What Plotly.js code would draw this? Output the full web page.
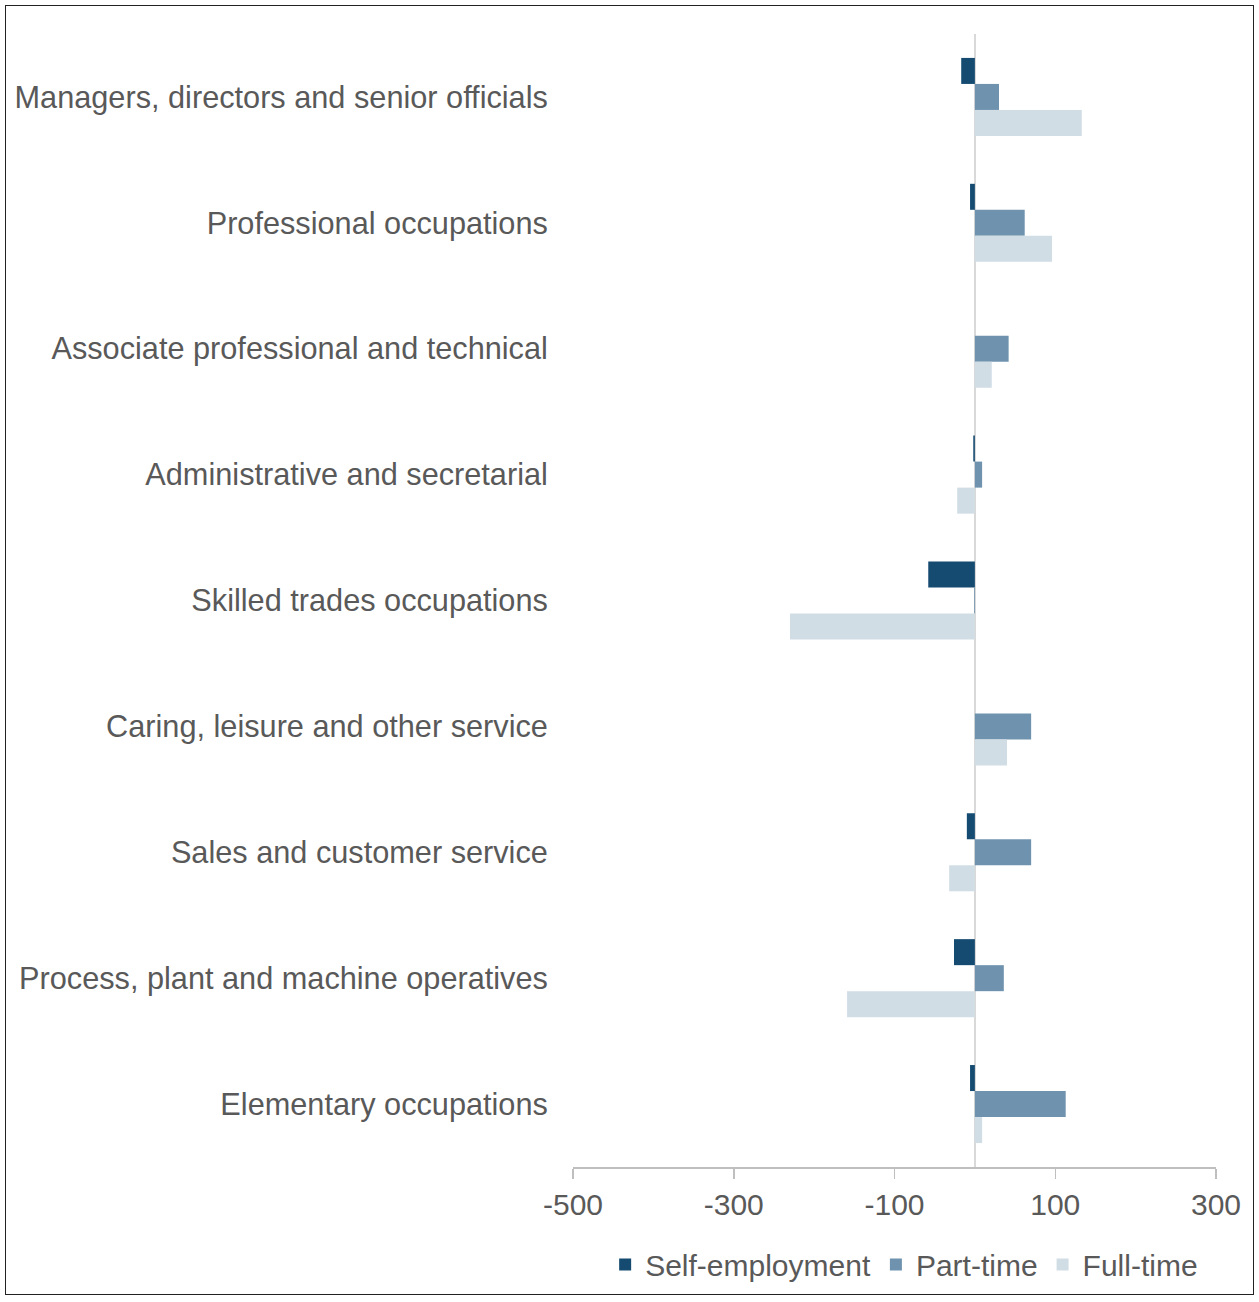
<!DOCTYPE html>
<html>
<head>
<meta charset="utf-8">
<script src="https://cdn.plot.ly/plotly-3.0.1.min.js"></script>
<style>
  html, body { margin: 0; padding: 0; background: #fff; }
  #wrap { position: relative; width: 1259px; height: 1302px; }
  #chart { width: 1259px; height: 1302px; }
  #frame { position: absolute; left: 5px; top: 5px; width: 1249px; height: 1290px;
           border: 1.5px solid #222; box-sizing: border-box; pointer-events: none; }
</style>
</head>
<body>
<div id="wrap">
  <div id="chart"></div>
  <div id="frame"></div>
</div>
<script>
const categories = [
  "Managers, directors and senior officials",
  "Professional occupations",
  "Associate professional and technical",
  "Administrative and secretarial",
  "Skilled trades occupations",
  "Caring, leisure and other service",
  "Sales and customer service",
  "Process, plant and machine operatives",
  "Elementary occupations"
];
const selfEmployment = [-17, -6, 0, -2, -58, 0, -10, -26, -6];
const partTime       = [30, 62, 42, 9, -1, 70, 70, 36, 113];
const fullTime       = [133, 96, 21, -22, -230, 40, -32, -159, 9];
const xTickVals = [-500, -300, -100, 100, 300];

const font = "Liberation Sans, Arial, sans-serif";
const grey = "#595959";

const traces = [
  { name: "Self-employment", x: selfEmployment, marker: { color: "#154b71" } },
  { name: "Part-time",       x: partTime,       marker: { color: "#6f93ae" } },
  { name: "Full-time",       x: fullTime,       marker: { color: "#d1dde5" } }
].map(t => Object.assign({ type: "bar", orientation: "h", y: categories, hoverinfo: "x+name" }, t));

const layout = {
  width: 1259, height: 1302,
  margin: { l: 573, r: 43, t: 34, b: 132 },
  paper_bgcolor: "#ffffff", plot_bgcolor: "#ffffff",
  barmode: "group", bargap: 0.38, bargroupgap: 0,
  font: { family: font, size: 30, color: grey },
  showlegend: true,
  legend: {
    orientation: "h", x: 0.515, xanchor: "center", y: -0.086, yanchor: "middle",
    font: { family: font, size: 30, color: grey }, traceorder: "normal",
    itemwidth: 30
  },
  xaxis: {
    range: [-500, 300], tickvals: xTickVals, ticktext: xTickVals.map(String),
    showgrid: false, zeroline: true, zerolinecolor: "#d9d9d9", zerolinewidth: 2,
    showline: true, linecolor: "#bfbfbf", linewidth: 1.5,
    ticks: "outside", ticklen: 10, tickcolor: "#bfbfbf", tickwidth: 1.5,
    tickfont: { family: font, size: 30, color: grey }, fixedrange: true
  },
  yaxis: {
    type: "category", autorange: "reversed", showgrid: false, zeroline: false,
    showline: false, ticks: "outside", ticklen: 18, tickcolor: "rgba(0,0,0,0)",
    tickfont: { family: font, size: 30.7, color: grey }, fixedrange: true
  }
};

Plotly.newPlot("chart", traces, layout, { displayModeBar: false, staticPlot: true });
</script>
</body>
</html>
